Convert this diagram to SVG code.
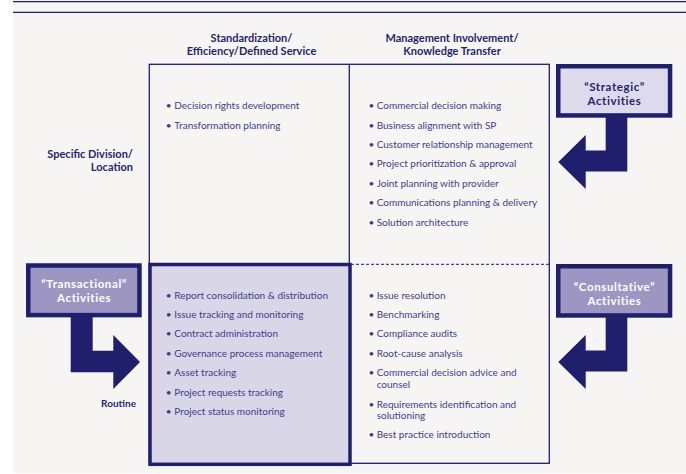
<svg xmlns="http://www.w3.org/2000/svg" width="686" height="474" viewBox="0 0 686 474">
  <defs>
    <style>
      .rule { stroke: #1f1f6d; stroke-width: 1.2; fill: none; }
      .grid { stroke: #1f1f6d; stroke-width: 1.3; fill: none; }
      .dash { stroke: #1f1f6d; stroke-width: 1; stroke-dasharray: 3 2; fill: none; }
      .head { font-family: Lato, "Open Sans", sans-serif; font-weight: bold; font-size: 11px; fill: #25256f; text-anchor: middle; }
      .axis { font-family: Lato, "Open Sans", sans-serif; font-weight: bold; font-size: 11px; fill: #25256f; text-anchor: end; }
      .item { font-family: Lato, "Open Sans", sans-serif; font-size: 10px; fill: #3d3d8c; }
      .boxdark { fill: #9d96c3; stroke: #1f1f6d; stroke-width: 4.5; }
      .boxlight { fill: #dddaec; stroke: #1f1f6d; stroke-width: 4.5; }
      .lblwhite { font-family: Lato, "Open Sans", sans-serif; font-weight: bold; font-size: 11.5px; letter-spacing: 0.6px; fill: #ffffff; text-anchor: middle; }
      .lblnavy { font-family: Lato, "Open Sans", sans-serif; font-weight: bold; font-size: 11.5px; letter-spacing: 0.6px; fill: #25256f; text-anchor: middle; }
      .arrow { fill: #1f1f6d; }
    </style>
  </defs>

  <!-- page -->
  <rect x="0" y="0" width="686" height="474" fill="#ffffff"/>
  <rect x="13" y="0" width="673" height="473" fill="#f6f5f3"/>
  <line class="rule" x1="13" y1="1.7" x2="686" y2="1.7"/>
  <line class="rule" x1="13" y1="12.3" x2="686" y2="12.3"/>

  <!-- column headings -->
  <g id="col-standardization">
    <text class="head" x="251.5" y="41.5">Standardization/</text>
    <text class="head" x="251.5" y="54.5">Efficiency/Defined Service</text>
  </g>
  <g id="col-management">
    <text class="head" x="452" y="41.5">Management Involvement/</text>
    <text class="head" x="452" y="54.5">Knowledge Transfer</text>
  </g>

  <!-- row headings -->
  <g id="row-specific">
    <text class="axis" x="133" y="157.5">Specific Division/</text>
    <text class="axis" x="133" y="170.5">Location</text>
  </g>
  <g id="row-routine">
    <text class="axis" x="136" y="406.5" style="font-size:10px">Routine</text>
  </g>

  <!-- matrix frame -->
  <g id="matrix">
    <rect class="grid" x="149.3" y="64.3" width="400" height="399"/>
    <line class="grid" x1="349.3" y1="64.3" x2="349.3" y2="463.3"/>
    <line class="dash" x1="351" y1="264.3" x2="549.3" y2="264.3"/>
  </g>

  <!-- upper-left cell -->
  <g id="cell-top-left">
    <text class="item" x="165.8" y="109.2">•<tspan x="174.3">Decision rights development</tspan></text>
    <text class="item" x="165.8" y="129.2">•<tspan x="174.3">Transformation planning</tspan></text>
  </g>

  <!-- upper-right cell -->
  <g id="cell-top-right">
    <text class="item" x="368.5" y="109.2">•<tspan x="376.7">Commercial decision making</tspan></text>
    <text class="item" x="368.5" y="129.2">•<tspan x="376.7">Business alignment with SP</tspan></text>
    <text class="item" x="368.5" y="148.2">•<tspan x="376.7">Customer relationship management</tspan></text>
    <text class="item" x="368.5" y="167.2">•<tspan x="376.7">Project prioritization &amp; approval</tspan></text>
    <text class="item" x="368.5" y="186.8">•<tspan x="376.7">Joint planning with provider</tspan></text>
    <text class="item" x="368.5" y="205.8">•<tspan x="376.7">Communications planning &amp; delivery</tspan></text>
    <text class="item" x="368.5" y="225.8">•<tspan x="376.7">Solution architecture</tspan></text>
  </g>

  <!-- lower-left cell (highlighted) -->
  <g id="cell-bottom-left">
    <rect x="150" y="264.5" width="200" height="199.8" fill="#d9d6e8" stroke="#1f1f6d" stroke-width="3.5"/>
    <text class="item" x="165.8" y="299.2">•<tspan x="174.3">Report consolidation &amp; distribution</tspan></text>
    <text class="item" x="165.8" y="318.2">•<tspan x="174.3">Issue tracking and monitoring</tspan></text>
    <text class="item" x="165.8" y="337.2">•<tspan x="174.3">Contract administration</tspan></text>
    <text class="item" x="165.8" y="357.2">•<tspan x="174.3">Governance process management</tspan></text>
    <text class="item" x="165.8" y="376.2">•<tspan x="174.3">Asset tracking</tspan></text>
    <text class="item" x="165.8" y="396.2">•<tspan x="174.3">Project requests tracking</tspan></text>
    <text class="item" x="165.8" y="415.2">•<tspan x="174.3">Project status monitoring</tspan></text>
  </g>

  <!-- lower-right cell -->
  <g id="cell-bottom-right">
    <text class="item" x="368.5" y="299.2">•<tspan x="376.7">Issue resolution</tspan></text>
    <text class="item" x="368.5" y="318.2">•<tspan x="376.7">Benchmarking</tspan></text>
    <text class="item" x="368.5" y="337.2">•<tspan x="376.7">Compliance audits</tspan></text>
    <text class="item" x="368.5" y="357.2">•<tspan x="376.7">Root-cause analysis</tspan></text>
    <text class="item" x="368.5" y="376.2">•<tspan x="376.7">Commercial decision advice and</tspan></text>
    <text class="item" x="376.7" y="388.2">counsel</text>
    <text class="item" x="368.5" y="407.5">•<tspan x="376.7">Requirements identification and</tspan></text>
    <text class="item" x="376.7" y="419.2">solutioning</text>
    <text class="item" x="368.5" y="437.8">•<tspan x="376.7">Best practice introduction</tspan></text>
  </g>

  <!-- activity labels -->
  <g id="strategic">
    <rect class="boxlight" x="558.25" y="66.25" width="111.8" height="49.2"/>
    <text class="lblnavy" x="614.5" y="90.5">“Strategic”</text>
    <text class="lblnavy" x="614.5" y="104.5">Activities</text>
  </g>
  <g id="consultative">
    <rect class="boxdark" x="558.25" y="266.25" width="111.8" height="49.2"/>
    <text class="lblwhite" x="614.5" y="290.5">“Consultative”</text>
    <text class="lblwhite" x="614.5" y="304.5">Activities</text>
  </g>
  <g id="transactional">
    <rect class="boxdark" x="28.25" y="265.5" width="111.2" height="49.6"/>
    <text class="lblwhite" x="84.1" y="287.8">“Transactional”</text>
    <text class="lblwhite" x="84.1" y="301.8">Activities</text>
  </g>

  <!-- bent arrows from labels into the matrix -->
  <g id="connectors">
    <polygon class="arrow" points="605.7,117 627.3,117 627.3,171.5 585.7,171.5 585.7,189 558.3,162 585.7,135 585.7,150.5 605.7,150.5"/>
    <polygon class="arrow" points="605.7,317 627.3,317 627.3,371.5 585.7,371.5 585.7,389 558.3,362 585.7,335 585.7,350.5 605.7,350.5"/>
    <polygon class="arrow" points="70.7,317 92.7,317 92.7,350.7 113.3,350.7 113.3,335 140,362 113.3,389 113.3,372.3 70.7,372.3"/>
  </g>
</svg>
